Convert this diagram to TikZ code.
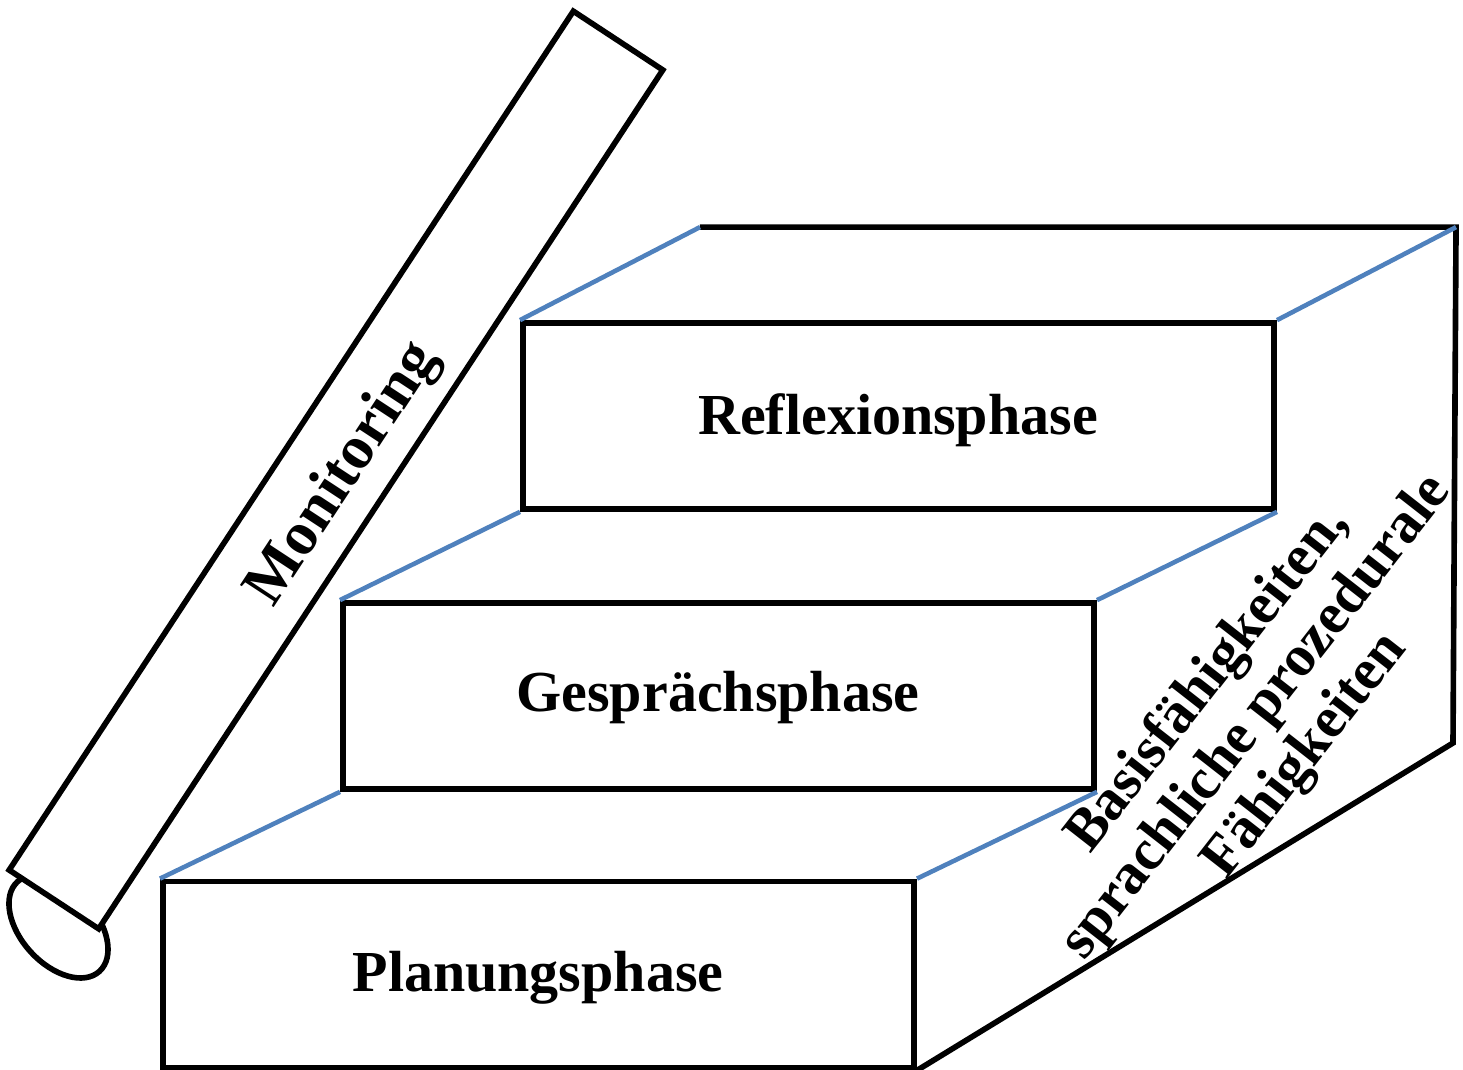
\documentclass[tikz,border=0pt]{standalone}
\usepackage{fontspec}
\setmainfont{Liberation Serif}
\usepackage{tikz}
\usetikzlibrary{calc}
\definecolor{stair-blue}{RGB}{79, 129, 189}

\begin{document}
\begin{tikzpicture}[x=0.01cm, y=0.01cm,
        stage/.style={draw, line width=1.6pt, fill=white,
                      minimum width=7.51cm, minimum height=1.86cm,
                      inner sep=0pt},
        depth/.style={line width=1.3pt, color=stair-blue},
        edge/.style={line width=1.6pt},
        label/.style={align=center, font=\fontsize{16.5}{17.5}\selectfont\bfseries}
      ]
        \useasboundingbox (0,0) rectangle (1463,1069);
        % stairs
        \node[stage] (plan) at (538.5,94.5) {};
        \node[stage] (ges) at (718.5,373) {};
        \node[stage] (refl) at (898.5,653) {};
        \node[label] (plant) at (538,91) {Planungsphase};
        \node[label] (gest) at (718,371) {Gesprächsphase};
        \node[label] (reflt) at (898,649) {Reflexionsphase};
        \coordinate (backl) at ($(refl.north west)+(180,93)$);
        \coordinate (backr) at ($(refl.north east)+(179,93)$);
        \coordinate (sideb) at (1453,326);
        \draw[edge] (backl) -- (backr) -- (sideb) -- (plan.south east);
        \draw[depth] (plan.north west) -- (ges.south west);
        \draw[depth] (plan.north east) -- (ges.south east);
        \draw[depth] (ges.north west) -- (refl.south west);
        \draw[depth] (ges.north east) -- (refl.south east);
        \draw[depth] (refl.north west) -- (backl);
        \draw[depth] (refl.north east) -- (backr);
        \node[label, rotate=52] (skills) at (1257,351)
              {Basisfähigkeiten,\\sprachliche prozedurale\\Fähigkeiten};
        % monitoring scroll
        \coordinate (canc) at (58.5,142.5);
        \draw[edge, fill=white, rotate around={-47.5:(canc)}]
              (canc) ellipse [x radius=0.607cm, y radius=0.376cm];
        \node[draw, line width=1.6pt, fill=white, rotate=56.7,
              minimum width=10.27cm, minimum height=1.07cm, inner sep=0pt]
              (mon) at (336,599) {};
        \node[label, font=\fontsize{17.5}{18}\selectfont\bfseries, rotate=56.7]
              (mont) at (344,594) {Monitoring};
\end{tikzpicture}
\end{document}
